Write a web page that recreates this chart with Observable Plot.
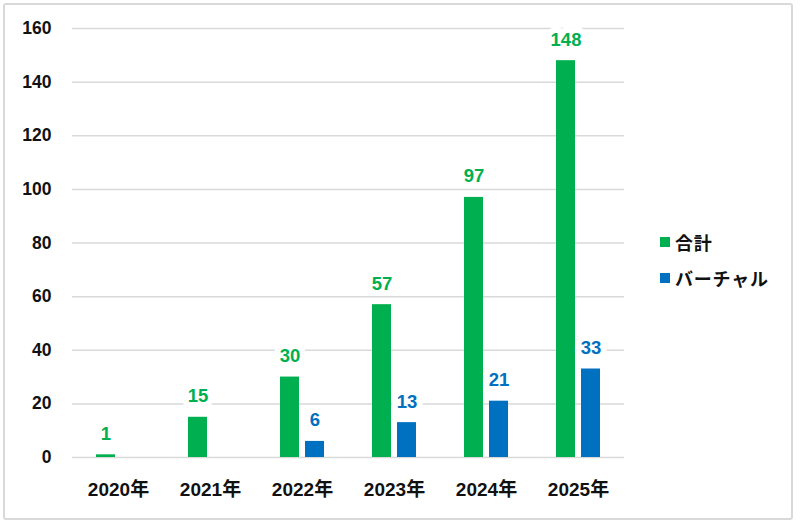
<!DOCTYPE html>
<html>
<head>
<meta charset="utf-8">
<script src="https://cdn.jsdelivr.net/npm/d3@7"></script>
<script src="https://cdn.jsdelivr.net/npm/@observablehq/plot@0.6"></script>
<style>
  html, body { margin: 0; padding: 0; background: #fff; }
  #wrap { position: relative; width: 800px; height: 523px; overflow: hidden;
    font-family: "Liberation Sans", "Noto Sans CJK JP", sans-serif; }
  #frame { position: absolute; left: 3px; top: 3px; width: 786px; height: 513px;
    border: 2px solid #d9d9d9; border-radius: 3px; pointer-events: none; }
  #legend { position: absolute; left: 660px; top: 229px; font-weight: bold; font-size: 18px; color: #111; letter-spacing: 0.8px; }
  #legend .item { display: flex; align-items: center; height: 25px; margin-bottom: 11px; }
  #legend .sw { width: 10px; height: 10px; margin-right: 5px; }
</style>
</head>
<body>
<div id="wrap"><div id="frame"></div><div id="legend"></div></div>
<script>
const years = ["2020年", "2021年", "2022年", "2023年", "2024年", "2025年"];
const series = ["合計", "バーチャル"];
const totals = [1, 15, 30, 57, 97, 148];
const virtual = [null, null, 6, 13, 21, 33];
const yTicks = [0, 20, 40, 60, 80, 100, 120, 140, 160];
const colors = ["#00B050", "#0070C0"];

const data = years.flatMap((yr, i) => {
  const rows = [{year: yr, series: series[0], value: totals[i]}];
  if (virtual[i] != null) rows.push({year: yr, series: series[1], value: virtual[i]});
  return rows;
});

const chart = Plot.plot({
  width: 800,
  height: 523,
  marginLeft: 70,
  marginRight: 174,
  marginTop: 28,
  marginBottom: 66,
  style: {fontFamily: '"Liberation Sans", "Noto Sans CJK JP", sans-serif', background: "transparent"},
  fx: {domain: years, padding: 0, label: null},
  x: {domain: series, axis: null, paddingInner: 0.23, paddingOuter: 0.9},
  y: {domain: [0, 160], label: null},
  color: {domain: series, range: colors},
  marks: [
    Plot.gridY(yTicks, {stroke: "#d9d9d9", strokeOpacity: 1, strokeWidth: 1.5}),
    Plot.axisY(yTicks, {tickSize: 0, tickPadding: 21, fontSize: 17.5, fontWeight: "bold", fill: "#111", label: null}),
    Plot.axisFx({anchor: "bottom", tickSize: 0, tickPadding: 25, fontSize: 19, fontWeight: "bold", fill: "#111", label: null}),
    Plot.barY(data, {fx: "year", x: "series", y: "value", fill: "series"}),
    Plot.text(data, {fx: "year", x: "series", y: "value", text: d => String(d.value), fill: "series",
      stroke: "white", strokeWidth: 12, paintOrder: "stroke", dy: -21, fontSize: 18.5, fontWeight: "bold"})
  ]
});
document.getElementById("wrap").prepend(chart);

const legend = document.getElementById("legend");
series.forEach((s, i) => {
  const it = document.createElement("div");
  it.className = "item";
  it.innerHTML = `<span class="sw" style="background:${colors[i]}"></span><span>${s}</span>`;
  legend.appendChild(it);
});
</script>
</body>
</html>
